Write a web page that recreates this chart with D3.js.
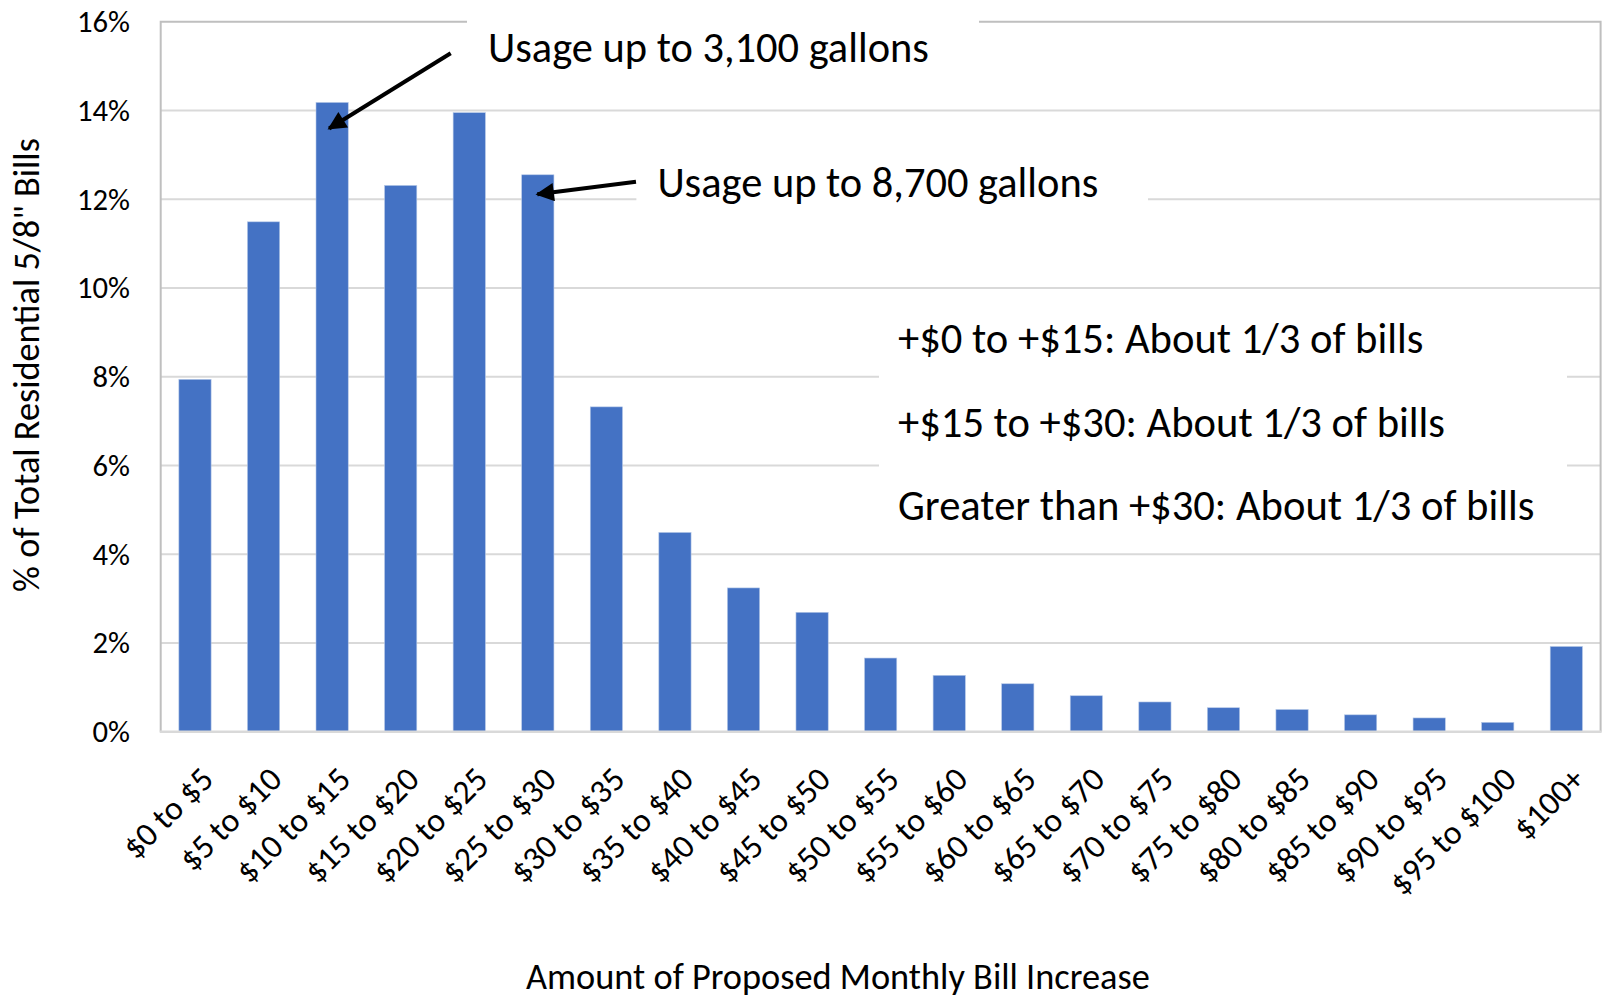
<!DOCTYPE html>
<html>
<head>
<meta charset="utf-8">
<script src="https://cdn.jsdelivr.net/npm/d3@7"></script>
<style>
  html, body { margin: 0; padding: 0; background: #fff; }
  svg { display: block; }
  text { font-family: Carlito, Calibri, Lato, "Noto Sans", sans-serif; fill: #000; }
</style>
</head>
<body>
<svg id="chart" width="1610" height="999"></svg>
<script>
// ---------------- data ----------------
const categories = ["$0 to $5", "$5 to $10", "$10 to $15", "$15 to $20", "$20 to $25",
  "$25 to $30", "$30 to $35", "$35 to $40", "$40 to $45", "$45 to $50", "$50 to $55",
  "$55 to $60", "$60 to $65", "$65 to $70", "$70 to $75", "$75 to $80", "$80 to $85",
  "$85 to $90", "$90 to $95", "$95 to $100", "$100+"];
const shareOfBills = [7.94, 11.49, 14.18, 12.31, 13.95, 12.55, 7.32, 4.49, 3.24, 2.69, 1.66,
  1.27, 1.08, 0.81, 0.67, 0.54, 0.50, 0.38, 0.31, 0.21, 1.92];
const yTicks = [0, 2, 4, 6, 8, 10, 12, 14, 16];
const yTitle = "% of Total Residential 5/8\" Bills";
const xTitle = "Amount of Proposed Monthly Bill Increase";
const arrowNotes = ["Usage up to 3,100 gallons", "Usage up to 8,700 gallons"];
const arrowTargets = ["$10 to $15", "$25 to $30"];
const summaryLines = ["+$0 to +$15: About 1/3 of bills", "+$15 to +$30: About 1/3 of bills",
  "Greater than +$30: About 1/3 of bills"];

// ---------------- layout ----------------
const svg = d3.select("#chart");
const plot = { left: 160.7, right: 1600.6, top: 21.7, bottom: 731.7 };
const x = d3.scaleBand().domain(categories).range([plot.left, plot.right])
  .paddingInner(0.53).paddingOuter(0.265);
const y = d3.scaleLinear().domain([0, 16]).range([plot.bottom, plot.top]);

function fit(sel, target) {
  const base = 40;
  sel.style("font-size", base + "px");
  const len = sel.node().getComputedTextLength();
  const size = base * target / len;
  sel.style("font-size", size + "px");
  return size;
}
function sizeFor(str, target) {
  const t = svg.append("text").text(str);
  const s = fit(t, target);
  t.remove();
  return s;
}

// gridlines
const grid = svg.append("g").attr("class", "grid");
grid.selectAll("line").data(yTicks.filter(d => d > 0 && d < 16)).join("line")
  .attr("x1", plot.left).attr("x2", plot.right)
  .attr("y1", d => y(d)).attr("y2", d => y(d))
  .attr("stroke", "#d9d9d9").attr("stroke-width", 2);

// plot frame (top, right, left) and base axis
svg.append("path")
  .attr("d", `M${plot.left},${plot.bottom} V${y(16)} H${plot.right} V${plot.bottom}`)
  .attr("fill", "none").attr("stroke", "#bfbfbf").attr("stroke-width", 2);

// bars
svg.append("g").selectAll("rect").data(categories).join("rect")
  .attr("x", d => x(d))
  .attr("width", x.bandwidth())
  .attr("y", (d, i) => y(shareOfBills[i]))
  .attr("height", (d, i) => y(0) - y(shareOfBills[i]))
  .attr("fill", "#4472C4")
  .attr("stroke", "#b4c7e7").attr("stroke-width", 0.6);

// x axis base line
svg.append("line").attr("x1", plot.left - 1).attr("x2", plot.right + 1)
  .attr("y1", y(0)).attr("y2", y(0))
  .attr("stroke", "#d9d9d9").attr("stroke-width", 2.5);

// y axis tick labels
const yAxis = d3.axisLeft(y).tickValues(yTicks).tickFormat(d => d + "%").tickSize(0).tickPadding(0);
const yG = svg.append("g").attr("transform", `translate(130,0)`).call(yAxis);
yG.select(".domain").remove();
const tickSize = sizeFor("16%", 53);
yG.selectAll("text").style("font-size", tickSize + "px")
  .style("font-family", "Carlito, Calibri, Lato, sans-serif").attr("fill", "#000").attr("x", 0);

// x axis tick labels, rotated
const xAxis = d3.axisBottom(x).tickSize(0).tickPadding(0);
const xG = svg.append("g").call(xAxis);
xG.select(".domain").remove();
const xLabSize = sizeFor("$0 to $5", 112);
xG.selectAll(".tick").attr("transform", d => `translate(${x(d) + x.bandwidth() / 2 + 12},773)`);
xG.selectAll(".tick text")
  .attr("y", 0).attr("dy", "0.35em").attr("x", 0)
  .attr("transform", "rotate(-45)")
  .style("text-anchor", "end")
  .style("font-size", xLabSize + "px")
  .style("font-family", "Carlito, Calibri, Lato, sans-serif").attr("fill", "#000");

// axis titles
const yt = svg.append("text").text(yTitle)
  .attr("transform", "translate(39,365) rotate(-90)")
  .attr("text-anchor", "middle");
fit(yt, 454);
const xt = svg.append("text").text(xTitle).attr("x", 526).attr("y", 989);
fit(xt, 624);

// annotation boxes (white backgrounds that interrupt gridlines)
const boxes = [
  { x0: 467, x1: 979, y0: 8, y1: 88 },
  { x0: 636.4, x1: 1148, y0: 150, y1: 228 },
  { x0: 879, x1: 1567, y0: 300, y1: 545 }
];
svg.append("g").selectAll("rect").data(boxes).join("rect")
  .attr("x", d => d.x0).attr("y", d => d.y0)
  .attr("width", d => d.x1 - d.x0).attr("height", d => d.y1 - d.y0)
  .attr("fill", "#fff");

// arrow notes
const noteSize = sizeFor(arrowNotes[0], 441);
const notePos = [{ x: 488, y: 61.7 }, { x: 657.4, y: 196.7 }];
svg.append("g").selectAll("text").data(arrowNotes).join("text")
  .text(d => d)
  .attr("x", (d, i) => notePos[i].x).attr("y", (d, i) => notePos[i].y)
  .style("font-size", noteSize + "px");

// arrows: tail near note, head at target bar top
svg.append("defs").append("marker")
  .attr("id", "ah").attr("viewBox", "0 0 10 10").attr("refX", 9).attr("refY", 5)
  .attr("markerWidth", 5.2).attr("markerHeight", 4.6).attr("orient", "auto")
  .attr("markerUnits", "strokeWidth")
  .append("path").attr("d", "M0,0 L10,5 L0,10 Z").attr("fill", "#000");
const arrowTails = [{ x: 450.7, y: 53.3 }, { x: 636, y: 181.7 }];
const arrowTipOffsets = [{ dx: -3, dy: 26 }, { dx: -0.5, dy: 19.5 }];
svg.append("g").selectAll("line").data(arrowTargets).join("line")
  .attr("x1", (d, i) => arrowTails[i].x).attr("y1", (d, i) => arrowTails[i].y)
  .attr("x2", (d, i) => x(d) + x.bandwidth() / 2 + arrowTipOffsets[i].dx)
  .attr("y2", (d, i) => y(shareOfBills[categories.indexOf(d)]) + arrowTipOffsets[i].dy)
  .attr("stroke", "#000").attr("stroke-width", 4)
  .attr("marker-end", "url(#ah)");

// summary lines
const sumSize = sizeFor(summaryLines[2], 636.6);
const sumY = [353.3, 436.7, 520];
svg.append("g").selectAll("text").data(summaryLines).join("text")
  .text(d => d)
  .attr("x", 898).attr("y", (d, i) => sumY[i])
  .style("font-size", sumSize + "px");
</script>
</body>
</html>
